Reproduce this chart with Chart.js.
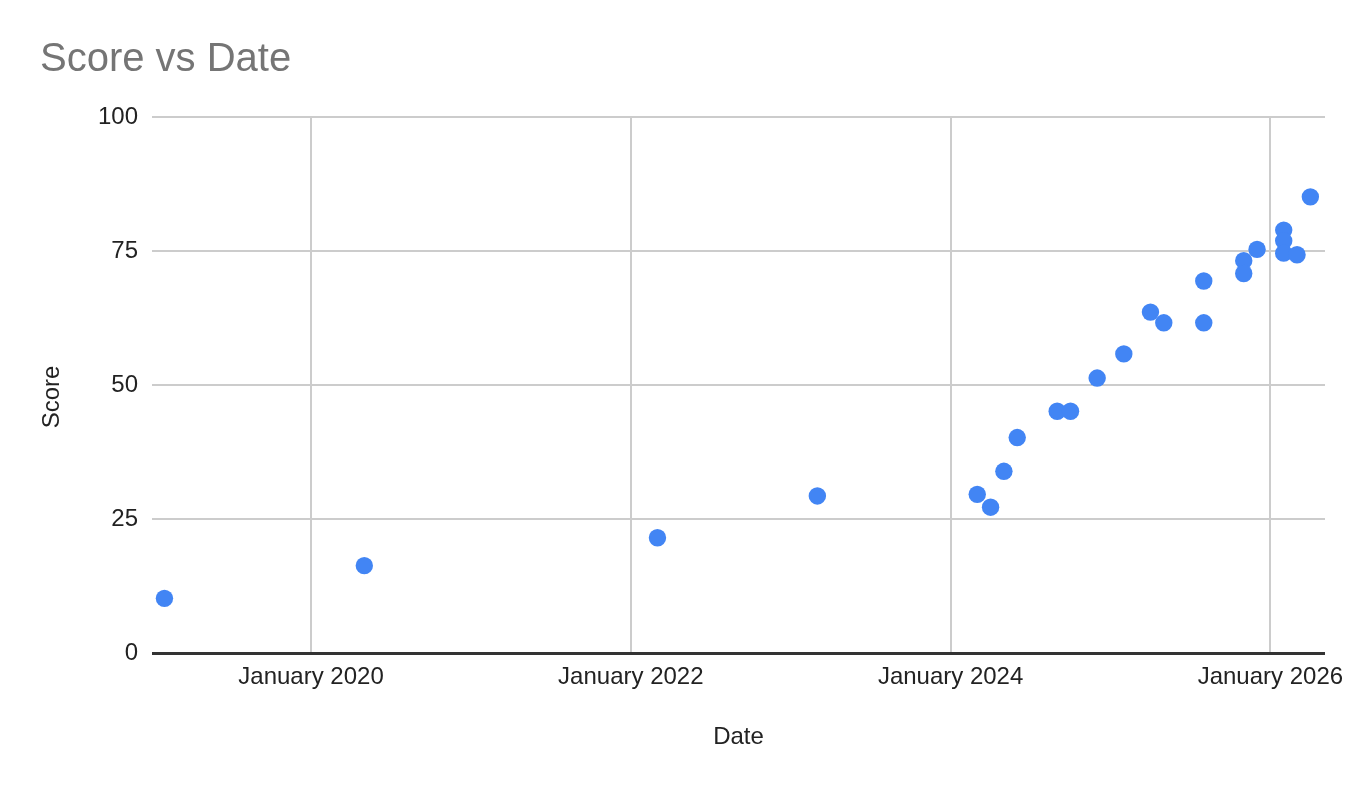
<!DOCTYPE html>
<html>
<head>
<meta charset="utf-8">
<script src="https://cdn.jsdelivr.net/npm/chart.js@4/dist/chart.umd.min.js"></script>
<style>
  html, body { margin: 0; padding: 0; background: #ffffff; }
  #wrap { width: 1363px; height: 788px; }
</style>
</head>
<body>
<div id="wrap"><canvas id="c" width="1363" height="788"></canvas></div>
<script>
// ---- data ----
const chartTitle = "Score vs Date";
const xAxisTitle = "Date";
const yAxisTitle = "Score";
const dates = [
  "2019-02", "2020-05", "2022-03", "2023-03", "2024-03", "2024-04",
  "2024-05", "2024-06", "2024-09", "2024-10", "2024-12", "2025-02",
  "2025-04", "2025-05", "2025-08", "2025-08", "2025-11", "2025-11",
  "2025-12", "2026-02", "2026-02", "2026-02", "2026-03", "2026-04"
];
const scores = [
  10.2, 16.3, 21.5, 29.3, 29.6, 27.2,
  33.9, 40.2, 45.1, 45.1, 51.3, 55.8,
  63.6, 61.6, 69.4, 61.6, 73.2, 70.8,
  75.3, 78.9, 76.9, 74.6, 74.3, 85.1
];
const xTickDates = ["2020-01", "2022-01", "2024-01", "2026-01"];
const xTickLabels = ["January 2020", "January 2022", "January 2024", "January 2026"];
const yTicks = [0, 25, 50, 75, 100];
const xRangeDates = ["2019-01-03", "2026-05-04"];

// months since January 2020 (fractional for day-level strings)
function monthIndex(s) {
  const p = s.split("-").map(Number);
  const day = p.length > 2 ? p[2] : 1;
  return (p[0] - 2020) * 12 + (p[1] - 1) + (day - 1) / 30.4;
}

const points = dates.map((d, i) => ({ x: monthIndex(d), y: scores[i] }));
const xTickValues = xTickDates.map(monthIndex);

const FONT = "'Liberation Sans', Arial, Helvetica, sans-serif";
const TEXT = "#222222";

const titlePlugin = {
  id: "sheetTitles",
  afterDraw(chart) {
    const ctx = chart.ctx;
    ctx.save();
    ctx.font = "40px " + FONT;
    ctx.fillStyle = "#757575";
    ctx.textAlign = "left";
    ctx.textBaseline = "alphabetic";
    ctx.fillText(chartTitle, 40, 71);
    ctx.restore();

    // vertical axis title
    ctx.save();
    ctx.font = "24px " + FONT;
    ctx.fillStyle = TEXT;
    ctx.textAlign = "center";
    ctx.textBaseline = "alphabetic";
    ctx.translate(59, 397);
    ctx.rotate(-Math.PI / 2);
    ctx.fillText(yAxisTitle, 0, 0);
    ctx.restore();
  }
};

new Chart(document.getElementById("c"), {
  type: "scatter",
  data: {
    datasets: [{
      label: yAxisTitle,
      data: points,
      backgroundColor: "#4285F4",
      borderColor: "#4285F4",
      borderWidth: 0,
      pointRadius: 8.7,
      pointHoverRadius: 8.7
    }]
  },
  plugins: [titlePlugin],
  options: {
    responsive: false,
    animation: false,
    layout: { padding: { top: 117, right: 38, bottom: 0, left: 0 } },
    plugins: {
      legend: { display: false },
      tooltip: { enabled: false },
      title: { display: false }
    },
    scales: {
      x: {
        type: "linear",
        min: monthIndex(xRangeDates[0]),
        max: monthIndex(xRangeDates[1]),
        afterBuildTicks(scale) {
          scale.ticks = xTickValues.map(v => ({ value: v }));
        },
        afterFit(scale) { scale.height = 135; },
        ticks: {
          autoSkip: false,
          maxRotation: 0,
          padding: 10,
          color: TEXT,
          font: { family: FONT, size: 24 },
          callback(value) {
            const i = xTickValues.findIndex(v => Math.abs(v - value) < 1e-6);
            return i >= 0 ? xTickLabels[i] : "";
          }
        },
        grid: { color: "#cccccc", lineWidth: 2, drawTicks: false },
        border: { display: false },
        title: {
          display: true,
          text: xAxisTitle,
          color: TEXT,
          font: { family: FONT, size: 24 },
          padding: { top: 0, bottom: 36 }
        }
      },
      y: {
        min: 0,
        max: 100,
        afterBuildTicks(scale) {
          scale.ticks = yTicks.map(v => ({ value: v }));
        },
        afterFit(scale) { scale.width = 152; },
        ticks: {
          padding: 14,
          color: TEXT,
          font: { family: FONT, size: 24 }
        },
        grid: {
          drawTicks: false,
          color: c => (c.tick && c.tick.value === 0 ? "#333333" : "#cccccc"),
          lineWidth: c => (c.tick && c.tick.value === 0 ? 3 : 2)
        },
        border: { display: false },
        title: { display: false }
      }
    }
  }
});
</script>
</body>
</html>
